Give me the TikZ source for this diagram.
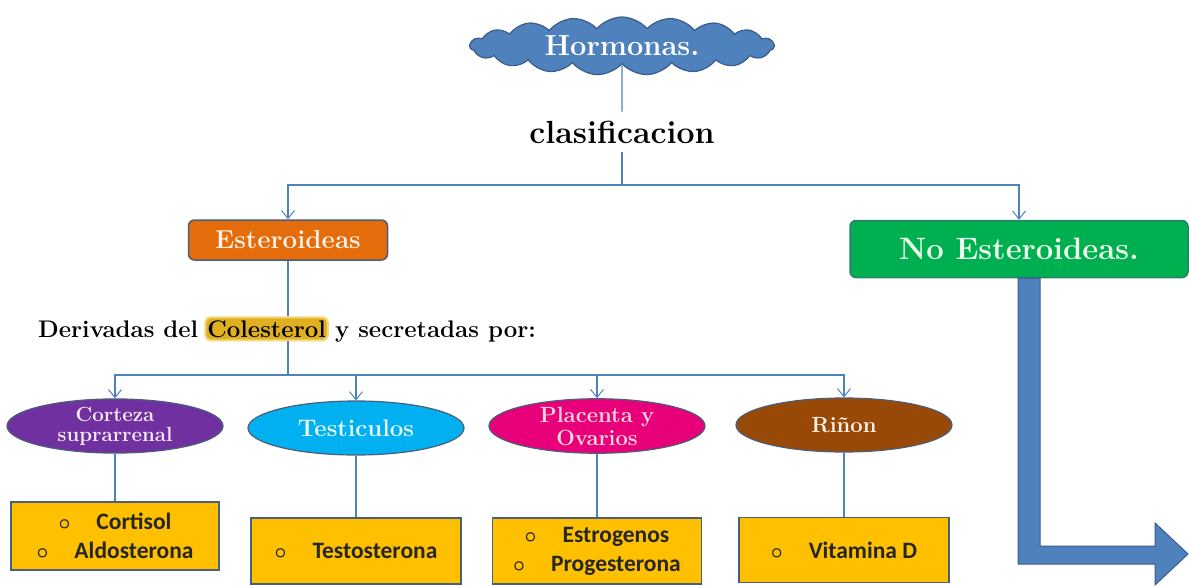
\documentclass[tikz,border=0pt]{standalone}
\usepackage{fontspec}
\newfontfamily\boxfont{Carlito}
\usetikzlibrary{shapes.geometric,shapes.symbols,arrows.meta}
\definecolor{lineblue}{HTML}{4F81BD}
\definecolor{darkblue}{HTML}{385D8A}
\definecolor{bordergray}{HTML}{4A5F7A}
\definecolor{orangefill}{HTML}{E46C0A}
\definecolor{greenfill}{HTML}{00B050}
\definecolor{purplefill}{HTML}{7030A0}
\definecolor{cyanfill}{HTML}{00B0F0}
\definecolor{pinkfill}{HTML}{E8007A}
\definecolor{brownfill}{HTML}{984807}
\definecolor{goldfill}{HTML}{FFC000}
\definecolor{hilite}{HTML}{E0B020}
\definecolor{hiliteglow}{HTML}{F2D978}
\newcommand{\bul}{{\fontsize{20}{20}\selectfont\boldmath$\circ$}}
\begin{document}
\begin{tikzpicture}[x=1pt,y=-1pt,
  conn/.style={draw=lineblue, line width=1.3pt},
  arr/.style={conn, -{Straight Barb[length=8pt,width=13pt,line width=1pt]}},
  serifbold/.style={font=\fontsize{#1}{#1}\selectfont\bfseries},
  ell/.style={ellipse, draw=bordergray, line width=1.2pt, minimum width=216pt, minimum height=54pt, inner sep=0pt, align=center, text=white},
  gbox/.style={rectangle, draw=bordergray, line width=1.5pt, fill=goldfill, inner sep=0pt, align=center,
    font=\fontsize{23.5}{29}\boxfont\bfseries, text=black!85}
]
\useasboundingbox (0,0) rectangle (1189,586);

% top cloud
\node[cloud, cloud puffs=19, cloud puff arc=100, aspect=6, draw=darkblue, line width=1.2pt,
      fill=lineblue, minimum width=304pt, minimum height=58pt, inner sep=0pt,
      serifbold=29, text=white] (horm) at (622,46) {Hormonas.};

\node[serifbold=32, text=black, inner sep=9pt] (clas) at (622,132) {clasificacion};
\coordinate (j1) at (622,185);

\node[rectangle, rounded corners=6pt, draw=bordergray, line width=1.5pt, fill=orangefill,
      minimum width=199pt, minimum height=40pt, inner sep=0pt, serifbold=26, text=orange!10]
      (est) at (288,240) {Esteroideas};
\node[rectangle, rounded corners=6pt, draw=darkblue!80!green, line width=1.5pt, fill=greenfill,
      minimum width=338pt, minimum height=57pt, inner sep=0pt, serifbold=31, text=green!8]
      (ne) at (1019,249) {No Esteroideas.};

\draw[conn] (horm.south) -- (clas.north);
\draw[conn] (clas.south) -- (j1);
\draw[arr] (j1) -| (est.north);
\draw[arr] (j1) -| (ne.north);

% derived line
\node[serifbold=24, text=black, inner sep=0pt, anchor=base west] (der) at (38,337) {Derivadas del};
\node[serifbold=24, text=black, inner xsep=2pt, inner ysep=3pt, anchor=base west, fill=hilite,
      draw=hiliteglow, line width=2pt, rounded corners=5pt] (col) at ([xshift=6pt]der.base east) {Colesterol};
\node[serifbold=24, text=black, inner sep=0pt, anchor=base west] (sec) at ([xshift=6pt]col.base east) {y secretadas por:};

\coordinate (j2) at (288,375);
\draw[conn] (est.south) -- (est.south |- col.north);
\draw[conn] (est.south |- col.south) -- (j2);

% ellipses
\node[ell, fill=purplefill, font=\fontsize{20.5}{20}\selectfont\bfseries, text=violet!8] (cor) at (115,426) {Corteza\\suprarrenal};
\node[ell, fill=cyanfill, serifbold=24, text=cyan!8] (tes) at (356,428) {Testiculos};
\node[ell, fill=pinkfill, font=\fontsize{22}{23}\selectfont\bfseries, text=pink!60] (pla) at (597,426) {Placenta y\\Ovarios};
\node[ell, fill=brownfill, serifbold=22, text=orange!10] (rin) at (844,425) {Riñon};

\draw[arr] (j2) -| (cor.north);
\draw[arr] (j2) -| (tes.north);
\draw[arr] (j2) -| (pla.north);
\draw[arr] (j2) -| (rin.north);

% boxes
\node[gbox, minimum width=208pt, minimum height=68pt] (b1) at (115,536)
  {\bul\hspace{26pt}Cortisol\\\bul\hspace{26pt}Aldosterona};
\node[gbox, minimum width=210pt, minimum height=66pt] (b2) at (356,551)
  {\bul\hspace{26pt}Testosterona};
\node[gbox, minimum width=209pt, minimum height=66pt] (b3) at (597,551)
  {\bul\hspace{26pt}Estrogenos\\\bul\hspace{26pt}Progesterona};
\node[gbox, minimum width=210pt, minimum height=65pt] (b4) at (844,550)
  {\bul\hspace{26pt}Vitamina D};

\draw[conn] (cor.south) -- (b1.north);
\draw[conn] (tes.south) -- (b2.north);
\draw[conn] (pla.south) -- (b3.north);
\draw[conn] (rin.south) -- (b4.north);

% big bent arrow
\draw[fill=lineblue, draw=darkblue, line width=1pt]
  (1018,278) -- (1040,278) -- (1040,546) -- (1155,546) -- (1155,523) -- (1188,554)
  -- (1155,585) -- (1155,564) -- (1018,564) -- cycle;
\end{tikzpicture}
\end{document}
